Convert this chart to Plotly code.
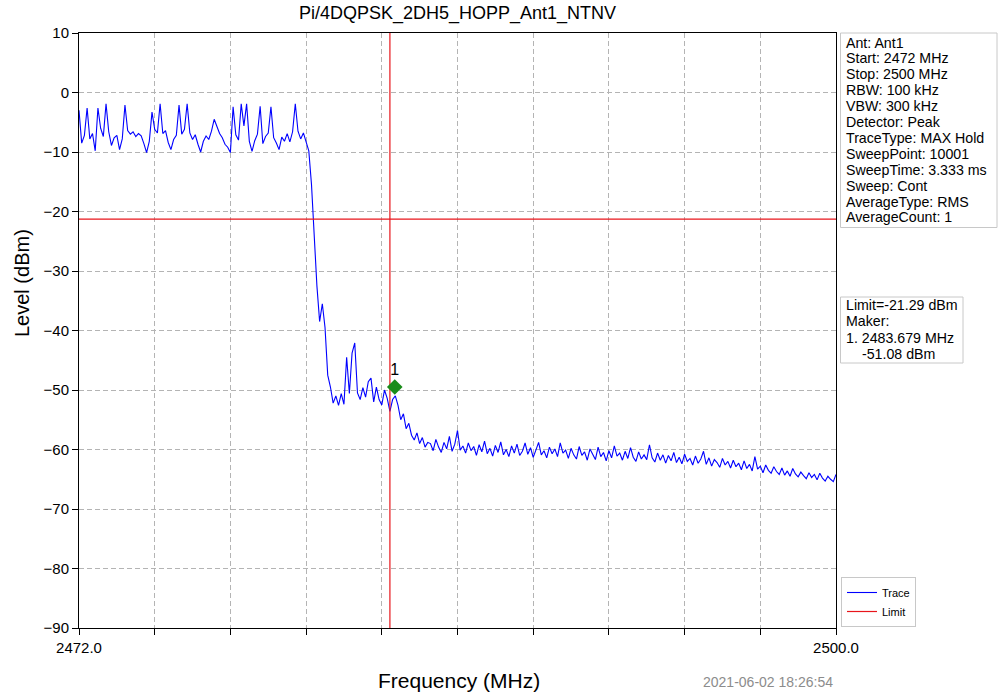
"""
Spectrum plot of the band-edge measurement (Pi/4DQPSK, hopping, Ant1).
"""
import plotly.graph_objects as go

FONT = "Liberation Sans, Arial, sans-serif"
TRACE_BLUE = "#0000ff"
LIMIT_RED = "#e8151b"
MARKER_GREEN = "#1a8c1a"
GRID_GRAY = "#b4b4b4"

# Sweep: 2472 .. 2500 MHz, one reading every 0.1 MHz
START_MHZ = 2472.0
STOP_MHZ = 2500.0
FREQ_MHZ = [round(START_MHZ + 0.1 * i, 1) for i in range(281)]

# Level (dBm), one row per MHz
LEVEL_DBM = [
    -3.0, -8.5, -7.2, -2.6, -7.8, -6.9, -9.8, -2.6, -6.0, -7.4,       # 2472
    -1.9, -6.6, -8.9, -7.6, -7.2, -9.6, -7.8, -2.1, -6.4, -7.0,       # 2473
    -6.6, -7.4, -6.9, -7.3, -8.6, -10.1, -8.2, -3.3, -6.2, -6.8,      # 2474
    -1.9, -6.9, -6.4, -8.4, -9.6, -7.9, -7.2, -2.1, -7.0, -6.2,       # 2475
    -1.9, -6.8, -7.9, -7.1, -8.7, -10.0, -8.2, -7.3, -7.9, -6.5,      # 2476
    -4.5, -5.8, -6.9, -7.6, -8.7, -9.2, -10.1, -2.4, -7.1, -8.0,      # 2477
    -1.9, -5.6, -1.9, -8.2, -9.9, -8.1, -7.0, -2.3, -8.6, -7.4,       # 2478
    -6.8, -2.4, -7.6, -8.5, -9.6, -7.5, -8.2, -6.9, -8.3, -6.6,       # 2479
    -1.9, -6.5, -7.8, -6.8, -8.3, -9.8, -15.5, -25.0, -32.5, -38.5,   # 2480
    -35.5, -39.5, -47.5, -49.5, -52.2, -51.0, -52.6, -50.6, -52.4, -44.5,  # 2481
    -50.6, -43.8, -42.1, -50.5, -51.6, -49.6, -51.2, -48.6, -48.0, -52.0,  # 2482
    -49.5, -51.6, -52.5, -50.0, -51.4, -53.6, -51.6, -51.0, -52.6, -55.0,  # 2483
    -54.0, -56.5, -55.6, -57.6, -58.4, -57.2, -59.0, -58.0, -59.6, -58.8,  # 2484
    -59.0, -60.2, -58.3, -59.6, -60.5, -58.8, -59.9, -57.8, -60.3, -59.1,  # 2485
    -56.8, -60.1, -59.4, -60.6, -58.9, -60.2, -59.5, -61.0, -59.2, -60.4,  # 2486
    -58.6, -60.7, -59.8, -61.1, -59.3, -60.5, -58.7, -60.9, -60.0, -61.2,  # 2487
    -59.4, -60.6, -59.1, -61.0, -60.3, -58.9, -60.8, -59.7, -61.3, -60.1,  # 2488
    -58.8, -60.9, -60.2, -61.4, -59.6, -60.7, -59.9, -61.2, -58.9, -60.6,  # 2489
    -60.1, -61.5, -59.8, -60.9, -61.6, -59.5, -61.0, -60.4, -61.8, -59.9,  # 2490
    -60.8, -61.7, -59.6, -61.2, -60.5, -61.9, -60.2, -61.4, -59.4, -61.1,  # 2491
    -60.6, -61.8, -60.3, -61.5, -59.7, -61.3, -62.0, -60.4, -61.6, -60.9,  # 2492
    -61.7, -59.2, -61.4, -62.1, -60.6, -61.8, -60.9, -62.3, -61.0, -61.9,  # 2493
    -60.5, -62.2, -61.3, -62.4, -60.8, -62.0, -61.5, -62.6, -61.1, -62.3,  # 2494
    -61.6, -60.3, -62.5, -61.4, -62.8, -61.7, -62.2, -63.0, -61.5, -62.6,  # 2495
    -62.0, -63.1, -61.8, -62.9, -62.3, -63.4, -61.9, -63.2, -62.5, -63.6,  # 2496
    -61.2, -63.3, -62.8, -63.9, -62.6, -63.5, -64.0, -62.9, -63.7, -64.2,  # 2497
    -63.1, -64.3, -63.6, -64.5, -63.2, -64.1, -64.6, -63.8, -64.4, -64.9,  # 2498
    -63.9, -64.7, -64.2, -65.1, -64.0, -64.8, -65.3, -64.5, -65.0, -65.4,  # 2499
    -64.2,                                                                 # 2500
]

LIMIT_DBM = -21.29
BAND_EDGE_MHZ = 2483.5
MARKER_FREQ = 2483.679
MARKER_LEVEL = -49.5

X_TICK_VALS = [2472.0, 2474.8, 2477.6, 2480.4, 2483.2, 2486.0,
               2488.8, 2491.6, 2494.4, 2497.2, 2500.0]
X_TICK_TEXT = ["2472.0", "", "", "", "", "", "", "", "", "", "2500.0"]
Y_TICK_VALS = [10, 0, -10, -20, -30, -40, -50, -60, -70, -80, -90]

SETTINGS_LINES = [
    "Ant: Ant1",
    "Start: 2472 MHz",
    "Stop: 2500 MHz",
    "RBW: 100 kHz",
    "VBW: 300 kHz",
    "Detector: Peak",
    "TraceType: MAX Hold",
    "SweepPoint: 10001",
    "SweepTime: 3.333 ms",
    "Sweep: Cont",
    "AverageType: RMS",
    "AverageCount: 1",
]
RESULT_LINES = [
    "Limit=-21.29 dBm",
    "Maker:",
    "1. 2483.679 MHz",
    "    -51.08 dBm",
]
TIMESTAMP = "2021-06-02 18:26:54"

# page geometry (pixels)
W, H = 998, 696
PLOT_L, PLOT_R, PLOT_T, PLOT_B = 79, 836, 33, 628


def px_x(p):
    """Horizontal pixel -> paper coordinate."""
    return (p - PLOT_L) / (PLOT_R - PLOT_L)


def px_y(p):
    """Vertical pixel -> paper coordinate."""
    return (PLOT_B - p) / (PLOT_B - PLOT_T)


fig = go.Figure()

fig.add_trace(go.Scatter(
    x=FREQ_MHZ, y=LEVEL_DBM, mode="lines", name="Trace",
    line=dict(color=TRACE_BLUE, width=1.1),
))
fig.add_trace(go.Scatter(
    x=[START_MHZ, STOP_MHZ], y=[LIMIT_DBM, LIMIT_DBM], mode="lines",
    name="Limit", line=dict(color=LIMIT_RED, width=1.2),
))
fig.add_trace(go.Scatter(
    x=[BAND_EDGE_MHZ, BAND_EDGE_MHZ], y=[-90, 10], mode="lines",
    showlegend=False, line=dict(color=LIMIT_RED, width=1.2),
))
fig.add_trace(go.Scatter(
    x=[MARKER_FREQ], y=[MARKER_LEVEL], mode="markers+text",
    text=["1"], textposition="top center",
    textfont=dict(family=FONT, size=16, color="black"),
    marker=dict(symbol="diamond", size=12, color=MARKER_GREEN),
    showlegend=False,
))

annotations = []
shapes = []

# settings box
shapes.append(dict(type="rect", xref="paper", yref="paper",
                   x0=px_x(840.5), x1=px_x(997), y0=px_y(227.5), y1=px_y(33),
                   line=dict(color="#c8c8c8", width=1), fillcolor="white",
                   layer="below"))
for i, line in enumerate(SETTINGS_LINES):
    annotations.append(dict(
        text=line, xref="paper", yref="paper", x=px_x(844), y=px_y(42.5 + 15.9 * i),
        xanchor="left", yanchor="middle", showarrow=False,
        font=dict(family=FONT, size=14.2, color="black"),
    ))

# limit / marker box
shapes.append(dict(type="rect", xref="paper", yref="paper",
                   x0=px_x(840.5), x1=px_x(963), y0=px_y(363), y1=px_y(297),
                   line=dict(color="#c8c8c8", width=1), fillcolor="white",
                   layer="below"))
for i, line in enumerate(RESULT_LINES):
    indent = 16 if line.startswith(" ") else 0
    annotations.append(dict(
        text=line.strip(), xref="paper", yref="paper",
        x=px_x(844 + indent), y=px_y(305 + 16.3 * i),
        xanchor="left", yanchor="middle", showarrow=False,
        font=dict(family=FONT, size=14.2, color="black"),
    ))

# axis titles and timestamp
annotations.append(dict(
    text="Frequency (MHz)", xref="paper", yref="paper",
    x=px_x(459), y=px_y(680), xanchor="center", yanchor="middle",
    showarrow=False, font=dict(family=FONT, size=21, color="black"),
))
annotations.append(dict(
    text="Level (dBm)", xref="paper", yref="paper", textangle=-90,
    x=px_x(22), y=px_y(283), xanchor="center", yanchor="middle",
    showarrow=False, font=dict(family=FONT, size=20, color="black"),
))
annotations.append(dict(
    text=TIMESTAMP, xref="paper", yref="paper",
    x=px_x(835), y=px_y(682), xanchor="right", yanchor="middle",
    showarrow=False, font=dict(family=FONT, size=14, color="#8c8c8c"),
))

grid_style = dict(showgrid=True, gridcolor=GRID_GRAY, griddash="5px,3px",
                  gridwidth=1, zeroline=False, tickfont=dict(size=15),
                  ticks="outside", ticklen=6, tickcolor="black",
                  showline=True, linecolor="black", linewidth=1, mirror=True)

fig.update_layout(
    width=W, height=H,
    margin=dict(l=PLOT_L, r=W - PLOT_R, t=PLOT_T, b=H - PLOT_B),
    plot_bgcolor="white", paper_bgcolor="white",
    font=dict(family=FONT, size=15, color="black"),
    title=dict(text="Pi/4DQPSK_2DH5_HOPP_Ant1_NTNV", x=0.5 * (PLOT_L + PLOT_R) / W,
               xanchor="center", y=1 - 13 / H, yanchor="middle",
               font=dict(family=FONT, size=18, color="black")),
    xaxis=dict(range=[START_MHZ, STOP_MHZ], tickmode="array",
               tickvals=X_TICK_VALS, ticktext=X_TICK_TEXT, **grid_style),
    yaxis=dict(range=[-90, 10], tickmode="array", tickvals=Y_TICK_VALS,
               **grid_style),
    legend=dict(
        x=px_x(841), y=px_y(627), xanchor="left", yanchor="bottom",
        bordercolor="#c8c8c8", borderwidth=1, bgcolor="white",
        font=dict(family=FONT, size=11, color="black"),
        itemwidth=30, tracegroupgap=0,
    ),
    shapes=shapes,
    annotations=annotations,
    showlegend=True,
)

# drop the default page margin so the 998x696 figure fills the window exactly
fig.write_html("out.html", config={"displayModeBar": False},
               post_script="document.body.style.margin='0';")
